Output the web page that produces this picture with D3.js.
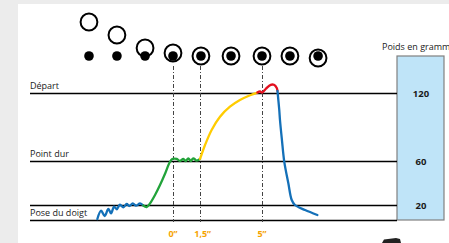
<!DOCTYPE html>
<html><head><meta charset="utf-8">
<script src="https://cdn.jsdelivr.net/npm/d3@7"></script>
<style>
html,body{margin:0;padding:0;background:#ececec;}
svg{display:block;}
text{font-family:"Open Sans",sans-serif;}
</style></head>
<body>
<script>
// ---- data ----
const levelLabels = ["Pose du doigt", "Point dur", "Départ"];
const levelValues = [20, 60, 120];           // grams
const timeTicks = [0, 1.5, 5];              // seconds
const timeTickLabels = ["0\u201D", "1,5\u201D", "5\u201D"];
const frameTimes = [-4.72, -3.15, -1.57, 0, 1.57, 3.26, 5.0, 6.57, 8.15];
const ringOffset = [-34, -21, -8, -3, 0, 0, 0, 0, 2];   // key cap travel vs finger dot
const seg1T = [-4.25,-4.04,-3.84,-3.63,-3.48,-3.31,-3.16,-2.98,-2.79,-2.60,-2.45,-2.26,-2.08,-1.85,-1.67];
const seg1G = [1.3,12.4,5.3,14.7,8.9,17.7,14.3,20.3,16.9,20.9,18.7,21.5,19.1,21.5,19.3];
const seg2T = [-1.67,-1.48,-1.29,-1.01,-0.73,-0.43,-0.21,-0.04,0.21,0.39,0.58,0.71,0.86,1.0,1.14,1.33,1.52];
const seg2G = [19.3,17.3,21.5,29.1,38.2,49.1,57.9,61.8,61.8,60,61.8,60,62.4,60,62.4,60.3,61.8];
const seg3T = [1.52,1.80,2.17,2.64,3.20,3.76,4.33,4.74];
const seg3G = [61.8,74.1,87.4,99.1,107.9,113.8,118.0,120.4];
const seg4T = [4.74,4.89,5.0,5.22,5.49,5.67,5.83,5.87];
const seg4G = [120.4,121.5,120.3,123.8,127.3,127.3,124.4,121.8];
const seg5T = [5.87,5.97,6.01,6.12,6.25,6.48,6.67,6.85,7.42,8.11];
const seg5G = [121.8,105,96.2,78.5,59.4,39.7,24.5,20,13.3,6.7];
const segColors = ["#1470b8", "#22a33a", "#ffcc00", "#e30f1e", "#1470b8"];
const axisTitle = "Poids en grammes";

// ---- chart ----
const W = 449, H = 243;
const svg = d3.select("body").append("svg").attr("width", W).attr("height", H);
svg.append("rect").attr("x", 18).attr("y", 4).attr("width", W - 18).attr("height", H - 4).attr("fill", "#fff");

const x = d3.scaleLinear().domain([0, 5]).range([173, 262]);
const y = d3.scaleLinear().domain([0, 20, 60, 120, 153]).range([220, 205, 161, 93, 56]);
const lineX0 = 30, lineX1 = 397;

// weight box
svg.append("rect").attr("x", 397).attr("y", y(153)).attr("width", 47).attr("height", y(0) - y(153))
  .attr("fill", "#bfe4f8").attr("stroke", "#808080").attr("stroke-width", 1.2);
svg.append("text").attr("x", 382).attr("y", 50).attr("font-size", 9).attr("fill", "#222").text(axisTitle);

// horizontal level lines
[0, ...levelValues].forEach(v => {
  svg.append("line").attr("x1", lineX0).attr("x2", lineX1).attr("y1", Math.round(y(v)) + 0.5).attr("y2", Math.round(y(v)) + 0.5)
    .attr("stroke", "#000").attr("stroke-width", 1.3);
});
levelValues.forEach((v, i) => {
  const yy = i === 0 ? (y(0) + y(20)) / 2 + 3.5 : y(v) - 4;
  svg.append("text").attr("x", lineX0).attr("y", yy).attr("font-size", 9).attr("fill", "#1a1a1a").text(levelLabels[i]);
  svg.append("text").attr("x", 421).attr("y", y(v) + 3.5).attr("text-anchor", "middle")
    .attr("font-size", 9.5).attr("font-weight", "bold").attr("fill", "#1a1a1a").text(v);
});

// dash-dot verticals & tick labels
timeTicks.forEach((t, i) => {
  svg.append("line").attr("x1", Math.round(x(t)) + 0.5).attr("x2", Math.round(x(t)) + 0.5).attr("y1", 66).attr("y2", 222)
    .attr("stroke", "#444").attr("stroke-width", 1).attr("stroke-dasharray", "4,2,1,2");
  svg.append("text").attr("x", x(t) + (i === 1 ? 3 : 0)).attr("y", 237).attr("text-anchor", "middle")
    .attr("font-size", 9).attr("font-weight", "bold").attr("fill", "#f5a300").text(timeTickLabels[i]);
});

// curve segments
const segs = [[seg1T, seg1G], [seg2T, seg2G], [seg3T, seg3G], [seg4T, seg4G], [seg5T, seg5G]];
const line = d3.line().x(d => x(d[0])).y(d => y(d[1])).curve(d3.curveCatmullRom.alpha(0.5));
segs.forEach((s, i) => {
  const pts = s[0].map((t, k) => [t, s[1][k]]);
  svg.append("path").attr("d", line(pts)).attr("fill", "none").attr("stroke", segColors[i])
    .attr("stroke-width", 2.3).attr("stroke-linecap", "round").attr("stroke-linejoin", "round");
});

// key / finger frames
const dotY = 56;
frameTimes.forEach((t, i) => {
  const cx = x(t);
  svg.append("circle").attr("cx", cx).attr("cy", dotY + ringOffset[i]).attr("r", 8.4)
    .attr("fill", "#fff").attr("stroke", "#000").attr("stroke-width", 2);
  svg.append("circle").attr("cx", cx).attr("cy", dotY).attr("r", 4.8).attr("fill", "#000");
});

// bottom-right fragment
svg.append("path").attr("d", "M382,243 L384,239.5 L396,238 L400,239 L401,243 Z").attr("fill", "#222");
</script>
</body></html>
